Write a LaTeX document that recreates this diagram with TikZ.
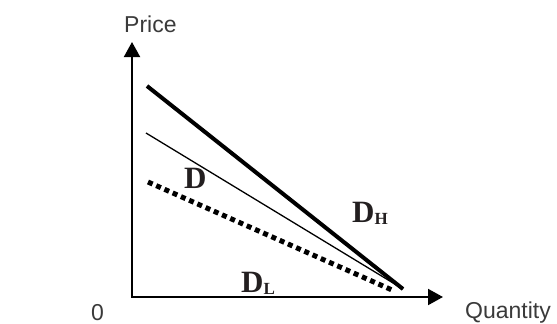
\documentclass[tikz,border=0pt]{standalone}
\usepackage{fontspec}
\setmainfont{Liberation Serif}
\newfontfamily\axisfont{Liberation Sans}
\usetikzlibrary{arrows.meta}
\definecolor{axtext}{HTML}{3A3A3A}
\definecolor{labtext}{HTML}{231F20}
\tikzset{
  axisline/.style={line width=2pt, -{Triangle[length=15pt,width=16pt]}},
  axislabel/.style={inner sep=0pt, anchor=base west, text=axtext, font=\axisfont\fontsize{23}{23}\selectfont},
  curvelabel/.style={inner sep=0pt, anchor=base west, text=labtext, font=\bfseries\fontsize{31}{31}\selectfont},
  thickcurve/.style={line width=4pt},
  thincurve/.style={line width=1.3pt},
  dotcurve/.style={line width=5pt, dash pattern=on 5pt off 4pt},
}
\newcommand{\subl}[1]{\raisebox{-2.5pt}{\fontsize{17}{17}\selectfont #1}}
\begin{document}
\begin{tikzpicture}[x=1pt,y=-1pt]
\useasboundingbox (0,0) rectangle (557,324);
% axes
\coordinate (O) at (132,297);
\coordinate (Ytip) at (132,42);
\coordinate (Xtip) at (443,297);
\draw[axisline] (O) -- (Ytip);
\draw[axisline] (O) -- (Xtip);
\fill (131,296) rectangle (133,298);
% demand curves
\coordinate (H1) at (147,86);
\coordinate (H2) at (403,289);
\coordinate (M1) at (146,133);
\coordinate (M2) at (403,289);
\coordinate (L1) at (148,182);
\coordinate (L2) at (392,290);
\draw[thickcurve] (H1) -- (H2);
\draw[thincurve] (M1) -- (M2);
\draw[dotcurve] (L1) -- (L2);
% labels
\node[axislabel] (price) at (124,32) {Price};
\node[axislabel] (qty) at (465,318) {Quantity};
\node[axislabel] (zero) at (91,320) {0};
\node[curvelabel] (dlab) at (184,188) {D};
\node[curvelabel] (dhlab) at (352,222) {D\subl{H}};
\node[curvelabel] (dllab) at (241,292) {D\subl{L}};
\end{tikzpicture}
\end{document}
